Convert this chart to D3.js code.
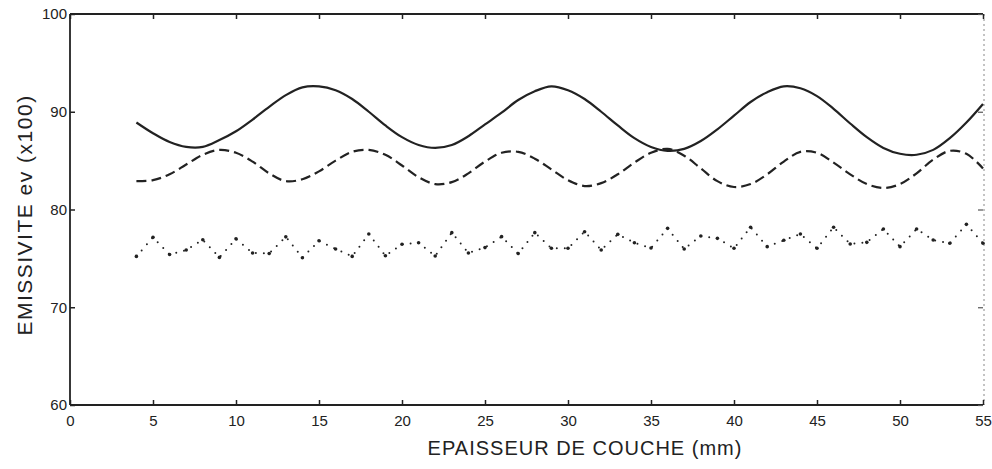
<!DOCTYPE html>
<html>
<head>
<meta charset="utf-8">
<script src="https://cdn.jsdelivr.net/npm/d3@7"></script>
<style>
  html, body { margin: 0; padding: 0; background: #fff; }
  svg { display: block; }
  text { font-family: "Liberation Sans", Arial, Helvetica, sans-serif; fill: #222; }
</style>
</head>
<body>
<svg id="chart" width="992" height="469"></svg>
<script>
// ---- data ----
const thickness = d3.range(4, 56); // 4 .. 55 mm

const solidSeries = [
  88.9, 87.8, 86.9, 86.4, 86.4, 87.1, 88.0, 89.2, 90.5, 91.7,
  92.5, 92.6, 92.2, 91.3, 90.0, 88.6, 87.4, 86.6, 86.3, 86.6,
  87.5, 88.7, 89.9, 91.2, 92.1, 92.6, 92.2, 91.3, 90.0, 88.6,
  87.3, 86.4, 86.0, 86.2, 87.0, 88.2, 89.6, 91.0, 92.0, 92.6,
  92.4, 91.6, 90.3, 88.8, 87.4, 86.3, 85.7, 85.6, 86.1, 87.3,
  88.9, 90.8
];

const dashedSeries = [
  82.9, 83.0, 83.6, 84.6, 85.6, 86.1, 85.8, 84.9, 83.7, 82.9,
  83.1, 83.9, 85.0, 85.9, 86.1, 85.6, 84.5, 83.3, 82.6, 82.8,
  83.7, 84.9, 85.8, 85.9, 85.2, 84.1, 83.0, 82.4, 82.7, 83.6,
  84.8, 85.8, 86.2, 85.5, 84.2, 82.9, 82.3, 82.6, 83.6, 84.9,
  85.9, 85.8, 84.8, 83.6, 82.6, 82.2, 82.6, 83.7, 85.1, 86.0,
  85.7, 84.2
];

const dottedSeries = [
  75.2, 77.15, 75.4, 75.85, 76.9, 75.1, 77.0, 75.55, 75.5, 77.2,
  75.07, 76.8, 75.96, 75.2, 77.5, 75.27, 76.44, 76.6, 75.24, 77.63,
  75.55, 76.1, 77.22, 75.5, 77.63, 76.03, 76.03, 77.73, 75.86, 77.46,
  76.6, 76.06, 78.07, 75.96, 77.29, 77.05, 76.03, 78.18, 76.2, 76.85,
  77.5, 76.03, 78.18, 76.47, 76.64, 78.0, 76.2, 78.0, 76.88, 76.54,
  78.48, 76.54
];

const xTicks = [0, 5, 10, 15, 20, 25, 30, 35, 40, 45, 50, 55];
const yTicks = [60, 70, 80, 90, 100];
const xTitle = "EPAISSEUR DE COUCHE (mm)";
const yTitle = "EMISSIVITE ev  (x100)";

// ---- drawing ----
const svg = d3.select("#chart");
const pLeft = 70, pRight = 983, pTop = 14, pBottom = 405;
const x = d3.scaleLinear().domain([0, 55]).range([pLeft, pRight]);
const y = d3.scaleLinear().domain([60, 100]).range([pBottom, pTop]);
const ink = "#222";

// frame
svg.append("line").attr("x1", pLeft).attr("x2", pRight).attr("y1", pBottom).attr("y2", pBottom)
  .attr("stroke", ink).attr("stroke-width", 2);
svg.append("line").attr("x1", pLeft).attr("x2", pRight).attr("y1", pTop).attr("y2", pTop)
  .attr("stroke", ink).attr("stroke-width", 2);
svg.append("line").attr("x1", pLeft).attr("x2", pLeft).attr("y1", pTop).attr("y2", pBottom)
  .attr("stroke", ink).attr("stroke-width", 1.8);
svg.append("line").attr("x1", pRight + 1).attr("x2", pRight + 1).attr("y1", pTop).attr("y2", pBottom)
  .attr("stroke", "#888").attr("stroke-width", 1).attr("stroke-dasharray", "2,3");

// bottom axis (ticks inward)
const xAxis = d3.axisBottom(x).tickValues(xTicks).tickSize(-5).tickPadding(10).tickFormat(d3.format("d"));
const gx = svg.append("g").attr("transform", `translate(0,${pBottom})`).call(xAxis);
gx.select(".domain").remove();
gx.selectAll(".tick line").attr("stroke", ink).attr("stroke-width", 1.5);
gx.selectAll(".tick text").attr("font-size", 15).attr("fill", ink);

// top ticks
const gxt = svg.append("g").attr("transform", `translate(0,${pTop})`)
  .call(d3.axisTop(x).tickValues(xTicks).tickSize(-5).tickFormat(""));
gxt.select(".domain").remove();
gxt.selectAll(".tick line").attr("stroke", ink).attr("stroke-width", 1.5);

// left axis
const yAxis = d3.axisLeft(y).tickValues(yTicks).tickSize(-5).tickPadding(3).tickFormat(d3.format("d"));
const gy = svg.append("g").attr("transform", `translate(${pLeft},0)`).call(yAxis);
gy.select(".domain").remove();
gy.selectAll(".tick line").attr("stroke", ink).attr("stroke-width", 1.5);
gy.selectAll(".tick text").attr("font-size", 15).attr("fill", ink);

// right ticks
const gyr = svg.append("g").attr("transform", `translate(${pRight},0)`)
  .call(d3.axisRight(y).tickValues(yTicks).tickSize(-5).tickFormat(""));
gyr.select(".domain").remove();
gyr.selectAll(".tick line").attr("stroke", "#555").attr("stroke-width", 1.2);

// series
const lineSmooth = d3.line().x((d, i) => x(thickness[i])).y(d => y(d)).curve(d3.curveCatmullRom);
const lineStraight = d3.line().x((d, i) => x(thickness[i])).y(d => y(d));

svg.append("path").datum(solidSeries).attr("d", lineSmooth)
  .attr("fill", "none").attr("stroke", ink).attr("stroke-width", 2.2);

svg.append("path").datum(dashedSeries).attr("d", lineSmooth)
  .attr("fill", "none").attr("stroke", ink).attr("stroke-width", 2.2)
  .attr("stroke-dasharray", "10,5");

svg.append("path").datum(dottedSeries).attr("d", lineStraight)
  .attr("fill", "none").attr("stroke", ink).attr("stroke-width", 2)
  .attr("stroke-linecap", "round").attr("stroke-dasharray", "0,8");
svg.append("g").selectAll("circle").data(dottedSeries).join("circle")
  .attr("cx", (d, i) => x(thickness[i])).attr("cy", d => y(d)).attr("r", 1.8).attr("fill", ink);

// titles
svg.append("text").attr("x", 585).attr("y", 455).attr("text-anchor", "middle")
  .attr("font-size", 20).attr("letter-spacing", 1).text(xTitle);
svg.append("text").attr("transform", "translate(32,215) rotate(-90)").attr("text-anchor", "middle")
  .attr("font-size", 21).attr("letter-spacing", 1.5).text(yTitle);
</script>
</body>
</html>
